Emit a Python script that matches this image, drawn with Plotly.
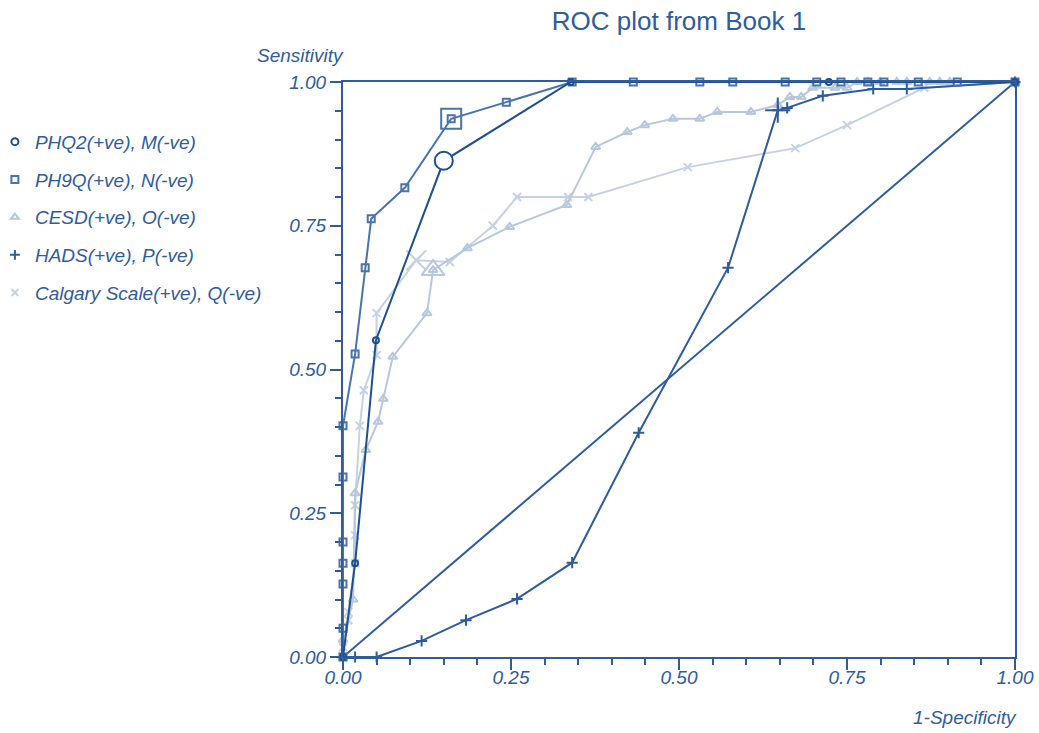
import plotly.graph_objects as go

# ---- data ----
names = ["PHQ2(+ve), M(-ve)", "PH9Q(+ve), N(-ve)", "CESD(+ve), O(-ve)",
         "HADS(+ve), P(-ve)", "Calgary Scale(+ve), Q(-ve)"]

phq2_x = [0, 0.018, 0.049, 0.150, 0.339, 0.723, 1.0]
phq2_y = [0, 0.163, 0.551, 0.863, 1.0, 1.0, 1.0]

ph9q_x = [0, 0, 0, 0, 0, 0, 0, 0.018, 0.033, 0.042, 0.092, 0.161, 0.243, 0.341,
          0.432, 0.531, 0.580, 0.658, 0.705, 0.741, 0.781, 0.805, 0.856, 0.914, 1.0]
ph9q_y = [0, 0.05, 0.127, 0.163, 0.2, 0.313, 0.402, 0.527, 0.677, 0.762, 0.816, 0.936, 0.965, 1.0,
          1.0, 1.0, 1.0, 1.0, 1.0, 1.0, 1.0, 1.0, 1.0, 1.0, 1.0]

cesd_x = [0, 0, 0.015, 0.018, 0.034, 0.052, 0.060, 0.074, 0.125, 0.134, 0.185, 0.248, 0.333,
          0.376, 0.423, 0.449, 0.491, 0.531, 0.557, 0.607, 0.647, 0.665, 0.682, 0.699, 0.732,
          0.75, 0.765, 0.781, 0.799, 0.824, 0.839, 0.873, 0.888, 0.903, 1.0]
cesd_y = [0, 0.03, 0.1, 0.285, 0.36, 0.409, 0.449, 0.522, 0.598, 0.673, 0.711, 0.748, 0.786,
          0.887, 0.913, 0.925, 0.936, 0.936, 0.948, 0.948, 0.96, 0.974, 0.974, 0.99, 0.99,
          0.99, 1, 1, 1, 1, 1, 1, 1, 1, 1]

hads_x = [0, 0.018, 0.05, 0.117, 0.183, 0.259, 0.341, 0.440, 0.573, 0.647, 0.661, 0.714, 0.789, 0.839, 1.0]
hads_y = [0, 0, 0, 0.028, 0.064, 0.101, 0.164, 0.390, 0.677, 0.951, 0.955, 0.976, 0.988, 0.988, 1.0]

calg_x = [0, 0, 0.008, 0.008, 0.018, 0.018, 0.018, 0.025, 0.031, 0.050, 0.050, 0.109, 0.159,
          0.223, 0.259, 0.335, 0.365, 0.513, 0.673, 0.75, 0.865, 1.0]
calg_y = [0, 0.017, 0.064, 0.078, 0.163, 0.212, 0.264, 0.402, 0.464, 0.525, 0.598, 0.690, 0.687,
          0.750, 0.800, 0.800, 0.800, 0.852, 0.885, 0.925, 0.99, 1.0]

# highlighted (optimal cut-off) points
best_x = [0.150, 0.161, 0.134, 0.647, 0.109]
best_y = [0.863, 0.936, 0.673, 0.951, 0.690]

diag_x = [0, 1]
diag_y = [0, 1]

tick_vals = [0, 0.25, 0.5, 0.75, 1.0]

# ---- styles ----
AX = "#2f5c9b"
colors = ["#1f4f8f", "#4a74a9", "#b7c7dc", "#2d5c9c", "#c6d2e3"]
symbols = ["circle-open", "square-open", "triangle-up-open", "cross-thin-open", "x-thin-open"]
big_symbols = ["circle", "square-open", "triangle-up-open", "cross-thin-open", "x-thin-open"]
sizes = [6, 7, 8, 8, 8]
big_sizes = [18, 20, 20, 18, 20]
series = [(phq2_x, phq2_y), (ph9q_x, ph9q_y), (cesd_x, cesd_y), (hads_x, hads_y), (calg_x, calg_y)]
FONT = "Liberation Sans, Arial, sans-serif"

fig = go.Figure()

fig.add_trace(go.Scatter(x=diag_x, y=diag_y, mode="lines", line=dict(color=AX, width=2),
                         showlegend=False, hoverinfo="skip", cliponaxis=False))

draw_order = [4, 2, 3, 1, 0]
for i in draw_order:
    xs, ys = series[i]
    fig.add_trace(go.Scatter(
        x=xs, y=ys, mode="lines+markers", name=names[i], showlegend=False,
        line=dict(color=colors[i], width=2),
        marker=dict(symbol=symbols[i], size=sizes[i], color=colors[i], line=dict(width=2, color=colors[i])),
        cliponaxis=False))
    fig.add_trace(go.Scatter(
        x=[best_x[i]], y=[best_y[i]], mode="markers", showlegend=False,
        marker=dict(symbol=big_symbols[i], size=big_sizes[i],
                    color="white" if big_symbols[i] == "circle" else colors[i],
                    line=dict(width=2, color=colors[i])),
        cliponaxis=False))

# legend-only entries (marker only)
for i in range(5):
    fig.add_trace(go.Scatter(
        x=[None], y=[None], mode="markers", name=names[i], legendgroup=str(i),
        marker=dict(symbol=symbols[i], size=7, color=colors[i], line=dict(width=2, color=colors[i]))))

axis_common = dict(
    range=[0, 1], showgrid=False, zeroline=False, automargin=False,
    showline=True, mirror=True, linecolor=AX, linewidth=2,
    ticks="outside", ticklen=11, tickwidth=2, tickcolor=AX,
    tickvals=tick_vals, tickformat=".2f",
    tickfont=dict(family=FONT, size=19, color=AX, style="italic"),
    minor=dict(dtick=0.05, tick0=0, ticks="outside", ticklen=6, tickwidth=2, tickcolor=AX),
)

fig.update_layout(
    width=1039, height=733,
    margin=dict(l=343, r=24, t=82, b=76, autoexpand=False),
    paper_bgcolor="white", plot_bgcolor="white",
    font=dict(family=FONT, color=AX),
    title=dict(text="ROC plot from Book 1", x=0.5, xref="paper", xanchor="center",
               y=0.972, yanchor="middle", font=dict(size=26, color=AX, family=FONT)),
    xaxis={**axis_common, "ticklabelstandoff": -9},
    yaxis=axis_common,
    legend=dict(x=-0.518, xanchor="left", y=0.929, yanchor="top", tracegroupgap=10,
                font=dict(size=19, color=AX, family=FONT, style="italic"),
                bgcolor="rgba(0,0,0,0)", itemwidth=30),
    annotations=[
        dict(text="Sensitivity", xref="paper", yref="paper", x=0, y=1, xanchor="right",
             yanchor="bottom", xshift=3, yshift=14, showarrow=False,
             font=dict(size=19, color=AX, family=FONT, style="italic")),
        dict(text="1-Specificity", xref="paper", yref="paper", x=1, y=0, xanchor="right",
             yanchor="top", xshift=4, yshift=-48, showarrow=False,
             font=dict(size=19, color=AX, family=FONT, style="italic")),
    ],
)

fig.write_html("out.html")
